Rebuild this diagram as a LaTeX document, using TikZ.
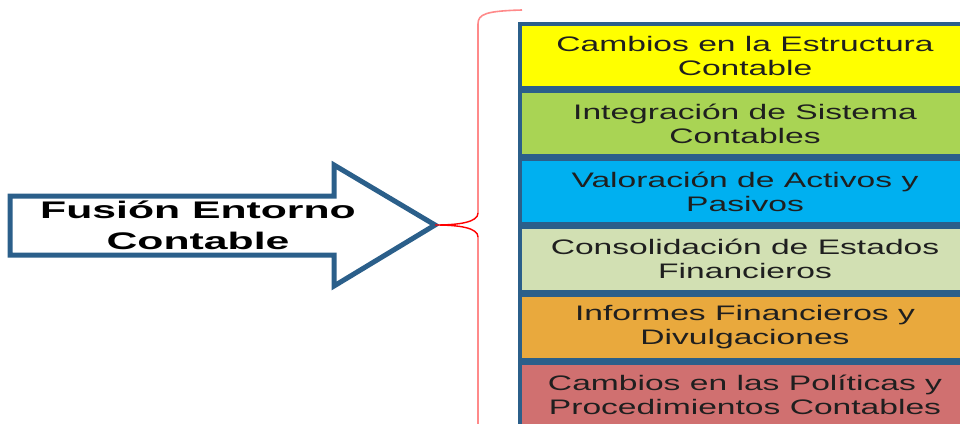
\documentclass[tikz,border=0pt]{standalone}
\usepackage{fontspec}
\setmainfont{Liberation Sans}
\newfontfamily\widesans[FakeStretch=1.6]{Liberation Sans}
\newfontfamily\widehead[FakeStretch=1.78]{Liberation Sans}
\usetikzlibrary{positioning}
\definecolor{framebl}{HTML}{2B5F8A}
\definecolor{boxyel}{HTML}{FFFF00}
\definecolor{boxgrn}{HTML}{A9D454}
\definecolor{boxblu}{HTML}{00B0F0}
\definecolor{boxsag}{HTML}{D2E0B3}
\definecolor{boxorg}{HTML}{E9A93D}
\definecolor{boxred}{HTML}{D07070}
\definecolor{bracered}{HTML}{FF8A8A}
\begin{document}
\begin{tikzpicture}[x=1pt,y=-1pt,node distance=0pt,
  item/.style={draw=framebl,line width=3.5pt,minimum width=450pt,minimum height=64.3pt,
    inner sep=0pt,align=center,font=\widesans\fontsize{21}{24}\selectfont,text=black!88},
  bigarrow/.style={draw=framebl,line width=5pt,line join=miter},
  brace/.style={draw=bracered,line width=1.6pt}]
\useasboundingbox (0,0) rectangle (960,423);
\coordinate (tip) at (435,225);
\draw [bigarrow] (10,196) -- (334,196) -- (334,165) -- (tip) -- (334,286) -- (334,255) -- (10,255) -- cycle;
\node (fusion) at (198,225) [align=center,font=\widehead\bfseries\fontsize{24}{31}\selectfont] {Fusión Entorno\\Contable};
\node (b1) at (745,55.9) [item,fill=boxyel] {Cambios en la Estructura\\Contable};
\node (b2) [item,fill=boxgrn,below=of b1] {Integración de Sistema\\Contables};
\node (b3) [item,fill=boxblu,below=of b2] {Valoración de Activos y\\Pasivos};
\node (b4) [item,fill=boxsag,below=of b3] {Consolidación de Estados\\Financieros};
\node (b5) [item,fill=boxorg,below=of b4] {Informes Financieros y\\Divulgaciones};
\node (b6) [item,fill=boxred,below=of b5] {Cambios en las Políticas y\\Procedimientos Contables};
\draw [brace] (522,10) .. controls (486,11) and (478,14) .. (478,24) -- (478,213);
\draw [brace] (478,237) -- (478,440);
\draw [red,line width=1.4pt] (478,213) .. controls (478,222) and (460,225) .. (tip) .. controls (460,225) and (478,228) .. (478,237);
\end{tikzpicture}
\end{document}
